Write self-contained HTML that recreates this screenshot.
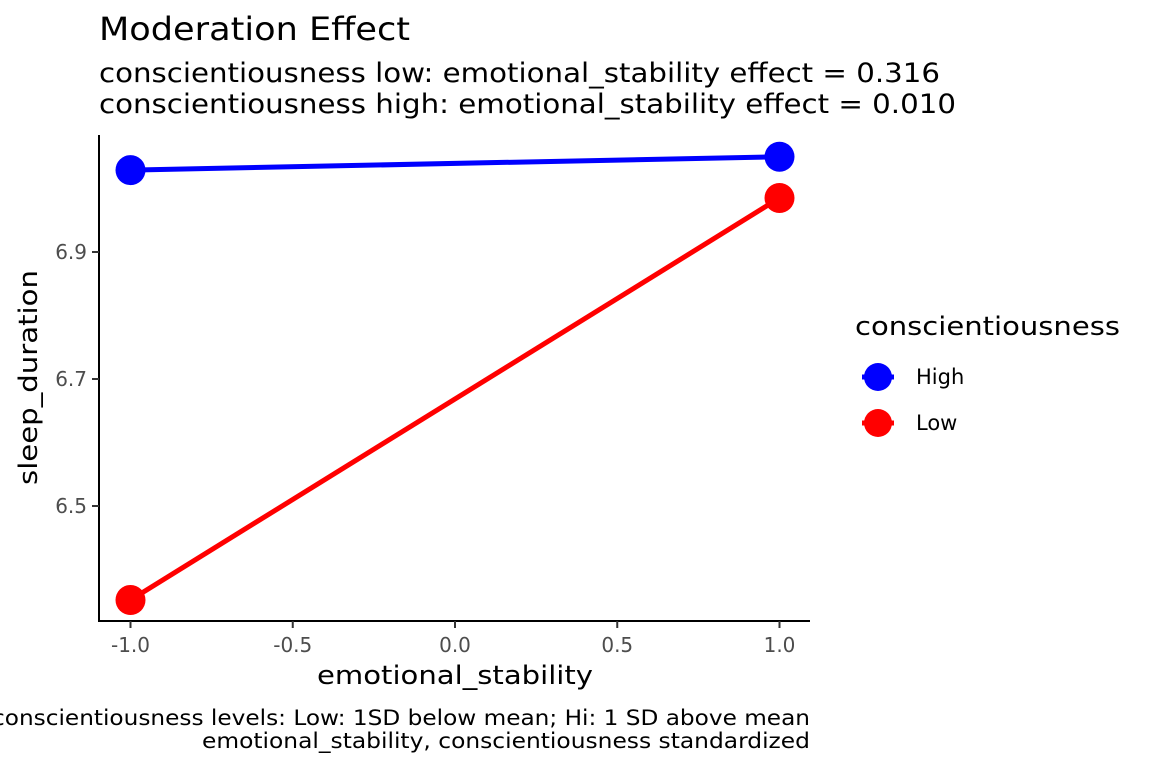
<!DOCTYPE html>
<html><head><meta charset="utf-8"><style>
body{margin:0;background:#fff;}
svg{display:block;font-family:"DejaVu Sans","Liberation Sans",sans-serif;}
</style></head><body>
<svg width="1152" height="768" viewBox="0 0 1152 768">
<text x="99" y="40" font-size="32" fill="#000" textLength="311" lengthAdjust="spacingAndGlyphs">Moderation Effect</text>
<text x="99" y="82" font-size="27" fill="#000" textLength="841" lengthAdjust="spacingAndGlyphs">conscientiousness low: emotional_stability effect = 0.316</text>
<text x="99" y="113" font-size="27" fill="#000" textLength="857" lengthAdjust="spacingAndGlyphs">conscientiousness high: emotional_stability effect = 0.010</text>
<g id="axes"></g>
<g id="marks"></g>
<text x="317" y="684" font-size="26" textLength="276" lengthAdjust="spacingAndGlyphs">emotional_stability</text>
<text transform="translate(37,485) rotate(-90)" font-size="26" textLength="215" lengthAdjust="spacingAndGlyphs">sleep_duration</text>
<text x="855" y="335" font-size="26" textLength="265" lengthAdjust="spacingAndGlyphs">conscientiousness</text>
<g>
<line x1="862" y1="377" x2="894" y2="377" stroke="#0000ff" stroke-width="5"/>
<circle cx="878" cy="377" r="14" fill="#0000ff"/>
<text x="916" y="384" font-size="21">High</text></g>
<g>
<line x1="862" y1="423" x2="894" y2="423" stroke="#ff0000" stroke-width="5"/>
<circle cx="878" cy="423" r="14" fill="#ff0000"/>
<text x="916" y="430" font-size="21">Low</text></g>
<text x="810" y="725" font-size="21" text-anchor="end" textLength="818" lengthAdjust="spacingAndGlyphs">conscientiousness levels: Low: 1SD below mean; Hi: 1 SD above mean</text>
<text x="810" y="748" font-size="21" text-anchor="end" textLength="608" lengthAdjust="spacingAndGlyphs">emotional_stability, conscientiousness standardized</text>
</svg>
<script>
const xValues=[-1,1];
const groups=["High","Low"];
const highValues=[7.029,7.050];
const lowValues=[6.352,6.985];
const xTicks=[-1.0,-0.5,0.0,0.5,1.0];
const xTickLabels=["-1.0","-0.5","0.0","0.5","1.0"];
const yTicks=[6.5,6.7,6.9];
const yTickLabels=["6.5","6.7","6.9"];
const NS="http://www.w3.org/2000/svg";
const xS=v=>455+v*324.5;
const yS=v=>252-(v-6.9)*635;
function mk(tag,attrs,parent){const e=document.createElementNS(NS,tag);for(const k in attrs)e.setAttribute(k,attrs[k]);parent.appendChild(e);return e;}
const ax=document.getElementById('axes');
let l=mk('line',{x1:99,y1:135,x2:99,y2:622,stroke:'#000','stroke-width':2},ax);


l=mk('line',{x1:98,y1:621,x2:810,y2:621,stroke:'#000','stroke-width':2},ax);


xTicks.forEach((t,i)=>{
 const x=xS(t);
 const tk=mk('line',{x1:x,y1:621,x2:x,y2:628,stroke:'#333','stroke-width':2},ax);
 
 
 const tx=mk('text',{x:x,y:652,'font-size':20,'text-anchor':'middle',fill:'#4d4d4d'},ax);
 tx.textContent=xTickLabels[i];
 
 
});
yTicks.forEach((t,i)=>{
 const y=yS(t);
 const tk=mk('line',{x1:92,y1:y,x2:99,y2:y,stroke:'#333','stroke-width':2},ax);
 
 
 const tx=mk('text',{x:87,y:y+7,'font-size':20,'text-anchor':'end',fill:'#4d4d4d'},ax);
 tx.textContent=yTickLabels[i];
 
 
});
const mg=document.getElementById('marks');
[[highValues,'#0000ff','high'],[lowValues,'#ff0000','low']].forEach(([vals,col,nm])=>{
 const pl=mk('polyline',{points:xValues.map((x,i)=>xS(x)+','+yS(vals[i])).join(' '),fill:'none',stroke:col,'stroke-width':5},mg);
 
 
 xValues.forEach((x,i)=>{
  const c=mk('circle',{cx:xS(x),cy:yS(vals[i]),r:15,fill:col},mg);
  
  
 });
});
</script>
</body></html>
